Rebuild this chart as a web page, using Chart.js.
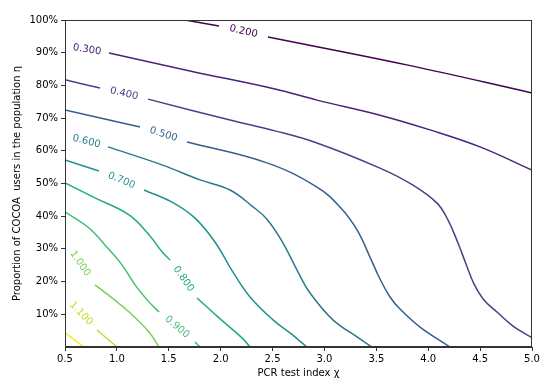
<!DOCTYPE html>
<html>
<head>
<meta charset="utf-8">
<script src="https://cdn.jsdelivr.net/npm/chart.js@4.4.0/dist/chart.umd.min.js"></script>
<style>
  body { margin: 0; background: #fff; }
  canvas { display: block; }
</style>
</head>
<body>
<canvas id="contourChart" width="550" height="388"></canvas>
<script>
// contour levels (null = break where the inline label sits)
var levels = [0.2, 0.3, 0.4, 0.5, 0.6, 0.7, 0.8, 0.9, 1.0, 1.1, 1.2];

var x_020 = [1.656, 1.984, null, 2.456, 3.805, 5.0];
var y_020 = [1.0, 0.982, null, 0.948, 0.862, 0.777];

var x_030 = [0.5, null, 0.924, 1.704, 2.523, 2.928, 3.535, 4.017, 4.499, 5.0];
var y_030 = [0.920, null, 0.899, 0.844, 0.789, 0.755, 0.709, 0.664, 0.612, 0.541];

var x_040 = [0.5, 0.837, null, 1.300, 2.090, 2.523, 2.928, 3.535, 3.853, 4.085, 4.191, 4.287, 4.364, 4.441, 4.537, 4.663, 4.817, 5.0];
var y_040 = [0.817, 0.792, null, 0.758, 0.694, 0.661, 0.624, 0.547, 0.495, 0.440, 0.388, 0.318, 0.254, 0.193, 0.144, 0.107, 0.064, 0.028];

var x_050 = [0.5, 1.223, null, 1.676, 2.446, 2.928, 3.150, 3.314, 3.439, 3.526, 3.632, 3.728, 3.921, 4.210];
var y_050 = [0.725, 0.673, null, 0.627, 0.563, 0.489, 0.428, 0.358, 0.275, 0.214, 0.153, 0.116, 0.061, 0.0];

var x_060 = [0.5, null, 0.914, 1.435, 1.801, 2.090, 2.302, 2.446, 2.601, 2.736, 2.861, 3.082, 3.314, 3.458];
var y_060 = [0.645, null, 0.612, 0.557, 0.511, 0.480, 0.431, 0.391, 0.318, 0.235, 0.165, 0.083, 0.031, 0.0];

var x_070 = [0.5, 0.828, null, 1.261, 1.531, 1.753, 1.945, 2.119, 2.283, 2.504, 2.668, 2.832];
var y_070 = [0.572, 0.538, null, 0.480, 0.443, 0.394, 0.321, 0.229, 0.153, 0.083, 0.043, 0.0];

var x_080 = [0.5, 0.789, 1.117, 1.309, 1.435, 1.512, null, 1.772, 1.984, 2.206, 2.283];
var y_080 = [0.502, 0.456, 0.404, 0.343, 0.291, 0.266, null, 0.150, 0.089, 0.028, 0.0];

var x_090 = [0.5, 0.731, 0.885, 1.049, 1.175, 1.309, 1.406, null, 1.753, 1.801];
var y_090 = [0.413, 0.364, 0.312, 0.251, 0.190, 0.138, 0.107, null, 0.015, 0.0];

var x_100 = [0.5, null, 0.789, 0.953, 1.117, 1.309, 1.406];
var y_100 = [0.321, null, 0.190, 0.150, 0.107, 0.046, 0.0];

var x_110 = [0.5, null, 0.808, 1.001];
var y_110 = [0.153, null, 0.052, 0.0];

var x_120 = [0.5, 0.683];
var y_120 = [0.043, 0.0];

var xTicks = [0.5, 1.0, 1.5, 2.0, 2.5, 3.0, 3.5, 4.0, 4.5, 5.0];
var yTicks = [0.1, 0.2, 0.3, 0.4, 0.5, 0.6, 0.7, 0.8, 0.9, 1.0];

var xTitle = "PCR test index χ";
var yTitle = "Proportion of COCOA  users in the population η";

// viridis, one per level
var viridis = ["#440154", "#482475", "#414487", "#355f8d", "#2a788e", "#21918c",
               "#22a884", "#44bf70", "#7ad151", "#bddf26", "#fde725"];

var xs = [x_020, x_030, x_040, x_050, x_060, x_070, x_080, x_090, x_100, x_110, x_120];
var ys = [y_020, y_030, y_040, y_050, y_060, y_070, y_080, y_090, y_100, y_110, y_120];

var datasets = levels.map(function (lvl, i) {
  var pts = xs[i].map(function (v, j) {
    return { x: v, y: ys[i][j] };
  });
  return {
    label: lvl.toFixed(3),
    data: pts,
    borderColor: viridis[i],
    borderWidth: 1.5,
    pointRadius: 0,
    fill: false,
    spanGaps: false,
    tension: 0.4
  };
});

// frame on all four sides + inline labels in the gaps
var contourLabels = {
  id: "contourLabels",
  afterDatasetsDraw: function (chart) {
    var ctx = chart.ctx;
    var a = chart.chartArea;
    var sx = chart.scales.x, sy = chart.scales.y;
    ctx.save();
    chart.data.datasets.forEach(function (ds) {
      var k = ds.data.findIndex(function (p) { return p.y === null; });
      if (k < 1) return;
      var p0 = ds.data[k - 1], p1 = ds.data[k + 1];
      var x0 = sx.getPixelForValue(p0.x), y0 = sy.getPixelForValue(p0.y);
      var x1 = sx.getPixelForValue(p1.x), y1 = sy.getPixelForValue(p1.y);
      ctx.save();
      ctx.translate((x0 + x1) / 2, (y0 + y1) / 2);
      ctx.rotate(Math.atan2(y1 - y0, x1 - x0));
      ctx.fillStyle = ds.borderColor;
      ctx.font = "10px 'DejaVu Sans'";
      ctx.textAlign = "center";
      ctx.textBaseline = "middle";
      ctx.fillText(ds.label, 0, 0);
      ctx.restore();
    });
    ctx.strokeStyle = "#333";
    ctx.lineWidth = 1;
    ctx.strokeRect(Math.round(a.left) + 0.5, Math.round(a.top) + 0.5,
                   Math.round(a.right - a.left) - 1, Math.round(a.bottom - a.top) - 1);
    ctx.restore();
  }
};

var tickFont = { family: "'DejaVu Sans'", size: 10 };

new Chart(document.getElementById("contourChart"), {
  type: "line",
  data: { datasets: datasets },
  options: {
    responsive: false,
    animation: false,
    layout: { padding: { top: 20, right: 18, left: 0, bottom: 0 } },
    plugins: { legend: { display: false }, tooltip: { enabled: false } },
    scales: {
      x: {
        type: "linear",
        min: 0.5,
        max: 5.0,
        afterBuildTicks: function (s) { s.ticks = xTicks.map(function (v) { return { value: v }; }); },
        afterFit: function (s) { s.height = 41; },
        grid: { drawOnChartArea: false, drawTicks: true, tickLength: 4, color: "#333" },
        border: { display: true, color: "#333" },
        ticks: {
          color: "#000", font: tickFont, padding: 2, maxRotation: 0, autoSkip: false,
          callback: function (v) { return Number(v).toFixed(1); }
        },
        title: { display: true, text: xTitle, color: "#000", font: tickFont, padding: { top: 0, bottom: 9 } }
      },
      y: {
        type: "linear",
        min: 0,
        max: 1,
        afterBuildTicks: function (s) { s.ticks = yTicks.map(function (v) { return { value: v }; }); },
        afterFit: function (s) { s.width = 65; },
        grid: { drawOnChartArea: false, drawTicks: true, tickLength: 4, color: "#333" },
        border: { display: true, color: "#333" },
        ticks: {
          color: "#000", font: tickFont, padding: 3, autoSkip: false,
          callback: function (v) { return Math.round(v * 100) + "%"; }
        },
        title: { display: true, text: yTitle, color: "#000", font: tickFont, padding: { top: 11, bottom: 0 } }
      }
    }
  },
  plugins: [contourLabels]
});
</script>
</body>
</html>
